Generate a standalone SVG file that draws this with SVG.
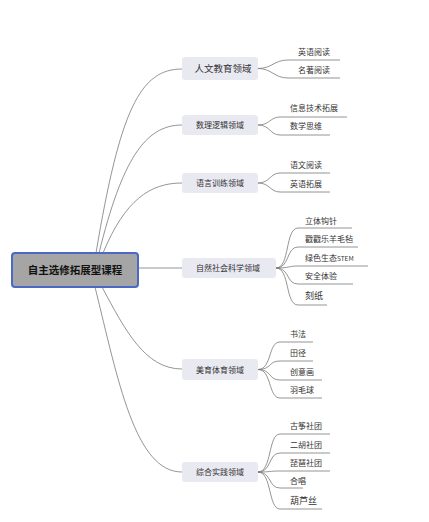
<svg xmlns="http://www.w3.org/2000/svg" width="429" height="522" viewBox="0 0 429 522">
<style>
text{font-family:"Noto Sans CJK SC","Liberation Sans",sans-serif;fill:#333}
.leaf{font-size:8px}
.br{font-size:8px;text-anchor:middle}
.bbox{fill:#e9e9f1;stroke:none}
.c{fill:none;stroke:#7a7a7a;stroke-width:0.8}
</style>
<rect width="429" height="522" fill="#fff"/>
<g id="connectors">
<path class="c" d="M96,253 C120,110 140,69 182,69"/>
<path class="c" d="M99,253 C122,160 145,125 182,125"/>
<path class="c" d="M103,253 C125,200 150,183 182,183"/>
<path class="c" d="M138,268 L182,268"/>
<path class="c" d="M102,287 C125,330 145,369 182,369"/>
<path class="c" d="M95,287 C118,380 135,472 182,472"/>
<path class="c" d="M258,68.5 C272,68.5 274,60 288,60 H340"/>
<path class="c" d="M258,68.5 C272,68.5 274,78 288,78 H340"/>
<path class="c" d="M258,125 C270,125 270,117 280,117 H347"/>
<path class="c" d="M258,125 C270,125 270,135 280,135 H330"/>
<path class="c" d="M258,183 C270,183 270,173 280,173 H330"/>
<path class="c" d="M258,183 C270,183 270,192 280,192 H330"/>
<path class="c" d="M276,268 C290,268 285,228 298,228 H352"/>
<path class="c" d="M276,268 C290,268 286,247 298,247 H358"/>
<path class="c" d="M276,268 C290,268 288,266 298,266 H368"/>
<path class="c" d="M276,268 C290,268 286,284 298,284 H353"/>
<path class="c" d="M276,268 C290,268 285,305 298,305 H327"/>
<path class="c" d="M258,369.5 C272,369.5 268,342 280,342 H313"/>
<path class="c" d="M258,369.5 C272,369.5 268,361 280,361 H313"/>
<path class="c" d="M258,369.5 C272,369.5 268,380 280,380 H322"/>
<path class="c" d="M258,369.5 C272,369.5 268,398 280,398 H322"/>
<path class="c" d="M258,472 C272,472 268,434 280,434 H330"/>
<path class="c" d="M258,472 C272,472 268,453 280,453 H330"/>
<path class="c" d="M258,472 C272,472 268,471 280,471 H330"/>
<path class="c" d="M258,472 C272,472 268,488 280,488 H303"/>
<path class="c" d="M258,472 C272,472 268,509 280,509 H322"/>
</g>
<g id="root">
<rect x="12" y="253" width="126" height="34" rx="3" fill="#a5a5a5" stroke="#4a68c4" stroke-width="2"/>
<text x="75" y="274" text-anchor="middle" font-size="10.5" font-weight="bold" fill="#111" style="fill:#111">自主选修拓展型课程</text>
</g>
<g id="b1"><rect class="bbox" x="182" y="57" width="76" height="23" rx="3"/><text class="br" x="223" y="72" style="font-size:9.5px">人文教育领域</text></g>
<g id="b2"><rect class="bbox" x="182" y="115" width="76" height="20" rx="3"/><text class="br" x="220" y="128">数理逻辑领域</text></g>
<g id="b3"><rect class="bbox" x="182" y="173" width="76" height="20" rx="3"/><text class="br" x="220" y="186">语言训练领域</text></g>
<g id="b4"><rect class="bbox" x="182" y="258" width="94" height="20" rx="3"/><text class="br" x="228" y="271">自然社会科学领域</text></g>
<g id="b5"><rect class="bbox" x="182" y="359" width="76" height="21" rx="3"/><text class="br" x="220" y="372.5">美育体育领域</text></g>
<g id="b6"><rect class="bbox" x="182" y="462" width="76" height="20" rx="3"/><text class="br" x="220" y="475">综合实践领域</text></g>
<g id="leaves">
<g id="l1"><text class="leaf" x="298" y="55">英语阅读</text></g>
<g id="l2"><text class="leaf" x="298" y="73">名著阅读</text></g>
<g id="l3"><text class="leaf" x="290" y="111">信息技术拓展</text></g>
<g id="l4"><text class="leaf" x="290" y="129">数学思维</text></g>
<g id="l5"><text class="leaf" x="290" y="168">语文阅读</text></g>
<g id="l6"><text class="leaf" x="290" y="187">英语拓展</text></g>
<g id="l7"><text class="leaf" x="305" y="224">立体钩针</text></g>
<g id="l8"><text class="leaf" x="305" y="242">戳戳乐羊毛毡</text></g>
<g id="l9"><text class="leaf" x="305" y="261">绿色生态<tspan font-size="6.5">STEM</tspan></text></g>
<g id="l10"><text class="leaf" x="305" y="279">安全体验</text></g>
<g id="l11"><text class="leaf" x="305" y="299" style="font-size:9px">刻纸</text></g>
<g id="l12"><text class="leaf" x="290" y="337">书法</text></g>
<g id="l13"><text class="leaf" x="290" y="356">田径</text></g>
<g id="l14"><text class="leaf" x="290" y="375">创意画</text></g>
<g id="l15"><text class="leaf" x="290" y="393">羽毛球</text></g>
<g id="l16"><text class="leaf" x="290" y="429">古筝社团</text></g>
<g id="l17"><text class="leaf" x="290" y="448">二胡社团</text></g>
<g id="l18"><text class="leaf" x="290" y="466">琵琶社团</text></g>
<g id="l19"><text class="leaf" x="290" y="484">合唱</text></g>
<g id="l20"><text class="leaf" x="290" y="504" style="font-size:9px">葫芦丝</text></g>
</g>
</svg>
